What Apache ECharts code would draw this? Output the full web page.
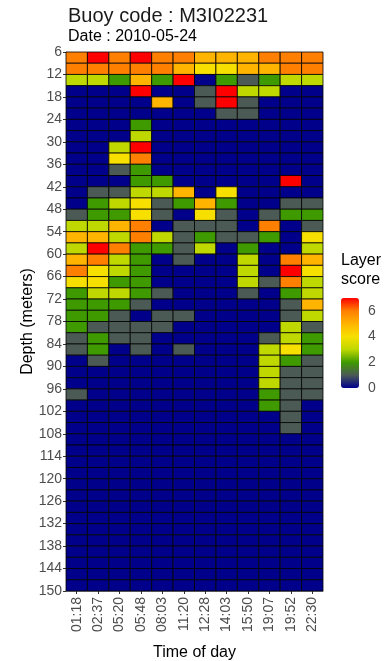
<!DOCTYPE html>
<html>
<head>
<meta charset="utf-8">
<script src="https://cdn.jsdelivr.net/npm/echarts@6/dist/echarts.min.js"></script>
<style>
html, body { margin: 0; padding: 0; background: #fff; }
#chart { width: 388px; height: 661px; }
</style>
</head>
<body>
<div id="chart"></div>
<script>
// time of day columns
const times = ['01:18', '02:37', '05:20', '05:48', '08:03', '11:20', '12:28', '14:03', '15:50', '19:07', '19:52', '22:30'];
// top of each 3 m layer
const depths = [6, 9, 12, 15, 18, 21, 24, 27, 30, 33, 36, 39, 42, 45, 48, 51, 54, 57, 60, 63, 66, 69, 72, 75,
    78, 81, 84, 87, 90, 93, 96, 99, 102, 105, 108, 111, 114, 117, 120, 123, 126, 129, 132, 135, 138, 141, 144, 147];
const layerStep = 3;
// layer score, one row per depth, one column per time
const scores = [
    [6, 7, 6, 7, 6, 6, 5, 5, 5, 6, 6, 6],
    [6, 6, 6, 6, 6, 5, 4, 4, 5, 5, 6, 6],
    [3, 3, 2, 5, 2, 7, 0, 2, 1, 2, 3, 3],
    [0, 0, 0, 7, 0, 0, 1, 7, 3, 3, 0, 0],
    [0, 0, 0, 0, 5, 0, 1, 7, 1, 0, 0, 0],
    [0, 0, 0, 0, 0, 0, 0, 1, 1, 0, 0, 0],
    [0, 0, 0, 2, 0, 0, 0, 0, 0, 0, 0, 0],
    [0, 0, 0, 3, 0, 0, 0, 0, 0, 0, 0, 0],
    [0, 0, 3, 7, 0, 0, 0, 0, 0, 0, 0, 0],
    [0, 0, 4, 6, 0, 0, 0, 0, 0, 0, 0, 0],
    [0, 0, 1, 2, 0, 0, 0, 0, 0, 0, 0, 0],
    [0, 0, 0, 2, 2, 0, 0, 0, 0, 0, 7, 0],
    [0, 1, 1, 3, 3, 5, 0, 4, 0, 0, 0, 0],
    [0, 2, 3, 4, 1, 2, 5, 2, 0, 0, 1, 1],
    [1, 2, 2, 4, 1, 0, 4, 1, 0, 1, 2, 2],
    [3, 3, 5, 6, 0, 1, 1, 1, 0, 6, 0, 1],
    [5, 5, 3, 6, 3, 1, 2, 1, 1, 2, 0, 4],
    [3, 7, 6, 2, 2, 1, 3, 0, 2, 0, 0, 3],
    [5, 6, 3, 2, 0, 1, 0, 0, 3, 0, 6, 5],
    [6, 4, 3, 2, 0, 0, 0, 0, 3, 0, 7, 4],
    [4, 4, 2, 2, 0, 0, 0, 0, 3, 1, 6, 3],
    [2, 3, 3, 2, 1, 0, 0, 0, 1, 0, 2, 3],
    [2, 2, 2, 1, 0, 0, 0, 0, 0, 0, 1, 5],
    [2, 2, 1, 0, 1, 1, 0, 0, 0, 0, 1, 3],
    [2, 1, 1, 1, 1, 0, 0, 0, 0, 0, 3, 1],
    [1, 2, 1, 1, 0, 0, 0, 0, 0, 1, 3, 2],
    [1, 2, 0, 1, 0, 1, 0, 0, 0, 3, 4, 2],
    [0, 1, 0, 0, 0, 0, 0, 0, 0, 3, 2, 1],
    [0, 0, 0, 0, 0, 0, 0, 0, 0, 3, 1, 1],
    [0, 0, 0, 0, 0, 0, 0, 0, 0, 3, 1, 1],
    [1, 0, 0, 0, 0, 0, 0, 0, 0, 2, 1, 1],
    [0, 0, 0, 0, 0, 0, 0, 0, 0, 2, 1, 0],
    [0, 0, 0, 0, 0, 0, 0, 0, 0, 0, 1, 0],
    [0, 0, 0, 0, 0, 0, 0, 0, 0, 0, 1, 0],
    [0, 0, 0, 0, 0, 0, 0, 0, 0, 0, 0, 0],
    [0, 0, 0, 0, 0, 0, 0, 0, 0, 0, 0, 0],
    [0, 0, 0, 0, 0, 0, 0, 0, 0, 0, 0, 0],
    [0, 0, 0, 0, 0, 0, 0, 0, 0, 0, 0, 0],
    [0, 0, 0, 0, 0, 0, 0, 0, 0, 0, 0, 0],
    [0, 0, 0, 0, 0, 0, 0, 0, 0, 0, 0, 0],
    [0, 0, 0, 0, 0, 0, 0, 0, 0, 0, 0, 0],
    [0, 0, 0, 0, 0, 0, 0, 0, 0, 0, 0, 0],
    [0, 0, 0, 0, 0, 0, 0, 0, 0, 0, 0, 0],
    [0, 0, 0, 0, 0, 0, 0, 0, 0, 0, 0, 0],
    [0, 0, 0, 0, 0, 0, 0, 0, 0, 0, 0, 0],
    [0, 0, 0, 0, 0, 0, 0, 0, 0, 0, 0, 0],
    [0, 0, 0, 0, 0, 0, 0, 0, 0, 0, 0, 0],
    [0, 0, 0, 0, 0, 0, 0, 0, 0, 0, 0, 0]
];
const depthTicks = [6, 150, 6]; // min, max, interval
const scoreTicks = [0, 2, 4, 6];
const scoreColors = ['#00008b', '#4b5a55', '#3f9a00', '#bfd800', '#f7e000', '#ffb400', '#ff7f00', '#ff0000'];

const cells = [];
depths.forEach((d, i) => {
    times.forEach((t, j) => {
        cells.push([j, d, scores[i][j]]);
    });
});

const font = 'Liberation Sans, Arial, sans-serif';
const myChart = echarts.init(document.getElementById('chart'));
myChart.setOption({
    animation: false,
    textStyle: {fontFamily: font},
    title: {
        text: 'Buoy code : M3I02231',
        subtext: 'Date : 2010-05-24',
        left: 63,
        top: 1,
        itemGap: 3,
        textStyle: {fontSize: 20, fontWeight: 'normal', color: '#1a1a1a', fontFamily: font},
        subtextStyle: {fontSize: 16, color: '#000', fontFamily: font}
    },
    grid: [
        {left: 66, top: 52, width: 257, height: 539, outerBoundsMode: 'none'},
        {left: 341, top: 298, width: 18, height: 90, outerBoundsMode: 'none'}
    ],
    xAxis: [
        {
            type: 'category',
            data: times,
            name: 'Time of day',
            nameLocation: 'middle',
            nameGap: 54,
            nameTextStyle: {fontSize: 16, color: '#000'},
            axisLine: {show: true, lineStyle: {color: '#8c8c8c'}},
            axisTick: {show: true, alignWithLabel: true, length: 3, lineStyle: {color: '#333'}},
            axisLabel: {rotate: 90, fontSize: 14, color: '#4d4d4d', margin: 6},
            splitLine: {show: false}
        },
        {gridIndex: 1, type: 'value', show: false, min: 0, max: 1}
    ],
    yAxis: [
        {
            type: 'value',
            inverse: true,
            min: depthTicks[0],
            max: depthTicks[1],
            interval: depthTicks[2],
            name: 'Depth (meters)',
            nameLocation: 'middle',
            nameRotate: 90,
            nameGap: 30,
            nameMoveOverlap: false,
            nameTextStyle: {fontSize: 16, color: '#000'},
            axisLine: {show: true, lineStyle: {color: '#8c8c8c'}},
            axisTick: {show: true, length: 3, lineStyle: {color: '#333'}},
            axisLabel: {fontSize: 14, color: '#4d4d4d', margin: 4},
            splitLine: {show: false}
        },
        {
            gridIndex: 1,
            type: 'value',
            min: 0,
            max: 7,
            position: 'right',
            axisLine: {show: false},
            axisTick: {show: true, inside: true, length: 3, customValues: scoreTicks, lineStyle: {color: '#fff'}},
            axisLabel: {fontSize: 14, color: '#4d4d4d', margin: 9, customValues: scoreTicks},
            splitLine: {show: false}
        }
    ],
    visualMap: {
        type: 'continuous',
        seriesIndex: 0,
        dimension: 2,
        min: 0,
        max: 7,
        calculable: false,
        hoverLink: false,
        orient: 'vertical',
        left: 341,
        top: 298,
        itemWidth: 18,
        itemHeight: 90,
        padding: 0,
        text: null,
        inRange: {color: scoreColors}
    },
    graphic: [
        {
            type: 'text',
            left: 341,
            top: 251,
            style: {text: 'Layer\nscore', font: '16px ' + font, fill: '#000', lineHeight: 19}
        }
    ],
    series: [
        {
            type: 'custom',
            xAxisIndex: 0,
            yAxisIndex: 0,
            data: cells,
            encode: {x: 0, y: 1},
            renderItem: function (params, api) {
                const top = api.coord([api.value(0), api.value(1)]);
                const bottom = api.coord([api.value(0), api.value(1) + layerStep]);
                const w = api.size([1, 0])[0];
                return {
                    type: 'rect',
                    shape: {x: top[0] - w / 2, y: top[1], width: w, height: bottom[1] - top[1]},
                    style: {fill: api.visual('color'), stroke: '#000', lineWidth: 0.8}
                };
            }
        }
    ]
});
</script>
</body>
</html>
